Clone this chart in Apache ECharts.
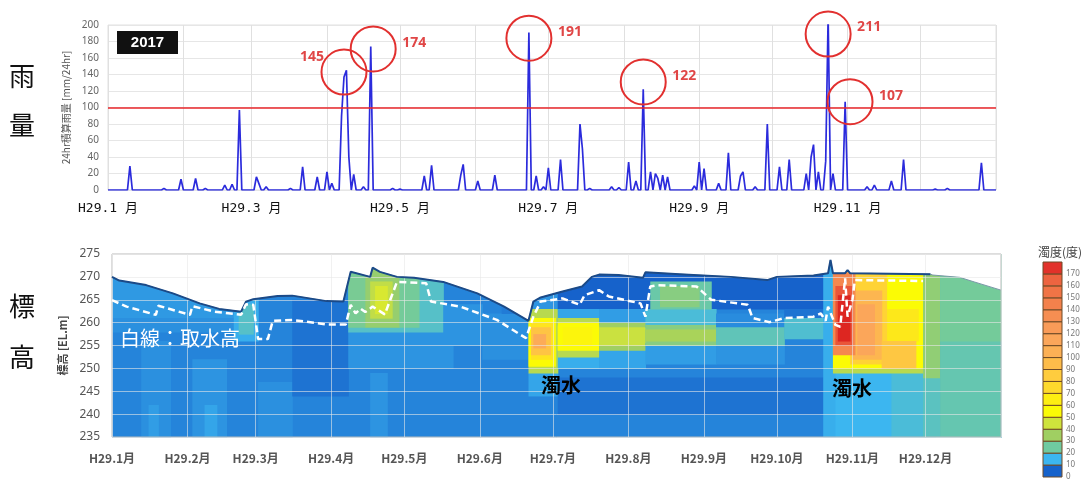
<!DOCTYPE html>
<html>
<head>
<meta charset="utf-8">
<title>H29 雨量・濁度分布</title>
<script src="https://cdn.jsdelivr.net/npm/echarts@6/dist/echarts.min.js"></script>
<style>
  html, body { margin: 0; padding: 0; background: #fff; }
  #chart { width: 1085px; height: 481px; }
</style>
</head>
<body>
<div id="chart"></div>
<script>
// カテゴリ: 2017-01-01 ～ 2018-01-01 (日単位)
const days = [];
for (let i = 0; i <= 365; i++) {
  days.push(new Date(Date.UTC(2017, 0, 1 + i)).toISOString().slice(0, 10));
}
const monthOf = v => +v.slice(5, 7);
const isMonthStart = v => v.slice(8) === '01' && v.startsWith('2017');

// 24hr積算雨量 (日番号, mm) 読み取り値、他の日は 0
const rainDay = [9, 23, 30, 36, 40, 48, 51, 54, 61, 62, 65, 75, 80, 86, 90, 92,
  96, 97, 98, 99, 101, 105, 108, 117, 120, 130, 133, 145, 146, 152, 159, 173,
  176, 179, 181, 186, 194, 195, 198, 207, 210, 214, 217, 220, 223, 225, 226, 228,
  230, 241, 243, 245, 251, 255, 260, 261, 266, 271, 276, 280, 287, 289, 290, 292,
  295, 296, 298, 303, 312, 315, 322, 327, 340, 345, 359];
const rainMM = [29, 2, 13, 14, 2, 6, 7, 97, 16, 8, 4, 2, 28, 16, 22, 8,
  90, 137, 145, 40, 19, 4, 174, 2, 1, 17, 30, 18, 31, 11, 18, 191,
  17, 4, 27, 37, 80, 50, 2, 4, 3, 34, 11, 122, 22, 20, 14, 18,
  16, 5, 34, 26, 8, 45, 17, 22, 4, 80, 28, 37, 20, 40, 55, 22,
  35, 211, 20, 107, 4, 6, 11, 37, 1, 2, 33];

// 赤丸 (中心の日番号, mm) と表示値
const circleDay = [97, 109, 173, 220, 296, 305];
const circleMM = [143, 171, 184, 131, 189, 107];
const peakText = ['145', '174', '191', '122', '211', '107'];
const peakLabelOffset = [[-32, -15], [41, -6], [41, -6], [41, -6], [41, -7], [41, -6]];

// 貯水位 (日番号, EL.m)
const surfaceDay = [0, 3, 14, 25, 36, 44, 53, 55, 58, 68, 74, 88, 95, 98, 106, 107, 110, 117, 124, 136,
  150, 161, 171, 173, 176, 185, 193, 197, 200, 208, 218, 219, 233, 254, 269, 273, 288, 294, 295, 296,
  301, 302, 303, 336, 337, 348, 354, 365];
const surfaceElev = [270.0, 269.2, 268.2, 266.4, 264.2, 263.0, 262.4, 264.6, 265.1, 265.8, 265.9, 264.7, 264.6, 271.1, 270.0, 272.0, 271.1, 270.0, 269.8, 268.9,
  266.4, 263.5, 260.4, 264.6, 265.5, 266.8, 267.9, 270.0, 270.5, 270.4, 269.8, 271.0, 270.6, 270.0, 269.3, 270.0, 270.3, 270.8, 273.7, 270.8,
  270.8, 271.5, 270.8, 270.6, 270.4, 269.9, 268.9, 267.1];
const surfaceLineEnd = 336;

// 取水高 (白破線)
const intakeDay = [0, 6, 18, 19, 32, 33, 42, 53, 55, 58, 60, 64, 66, 74, 88, 96, 98, 100, 102, 104,
  107, 112, 117, 129, 131, 143, 158, 170, 173, 176, 185, 192, 194, 200, 204, 217, 219, 221, 224, 240,
  246, 261, 263, 270, 276, 288, 291, 293, 294, 297, 299, 301, 302, 304, 305, 333];
const intakeElev = [264.9, 263.5, 261.7, 263.7, 261.7, 263.6, 262.4, 261.7, 264.0, 263.9, 256.4, 256.4, 260.4, 260.6, 259.6, 259.6, 263.9, 262.0, 263.1, 262.3,
  263.5, 261.8, 268.9, 268.6, 264.6, 263.5, 260.6, 256.6, 261.3, 264.6, 265.3, 263.9, 266.0, 267.1, 265.7, 264.2, 261.3, 267.9, 268.2, 267.9,
  265.0, 263.9, 261.0, 260.1, 261.0, 261.3, 262.0, 260.4, 263.5, 259.5, 259.1, 269.7, 261.3, 265.0, 269.3, 269.1];

// 濁度分布 [開始日, 終了日, 下端EL, 上端EL, 濁度(度)] 描画順
const turbidityBlocks = [
  [0, 365, 235, 275, 9],
  // 1～2月
  [0, 58, 261, 275, 11.5],
  [0, 58, 258, 261, 10.5],
  [12, 24, 235, 256, 10.5],
  [15, 19, 235, 242, 12],
  [33, 47, 235, 252, 11],
  [38, 43, 235, 242, 13],
  [50, 60, 256, 266, 14],
  [52, 58, 257.5, 264, 20],
  // 3～4月
  [60, 74, 235, 247, 10.5],
  [74, 97, 244, 265, 7],
  // 4～5月 表層
  [97, 140, 250, 259, 11],
  [97, 136, 258, 275, 20],
  [97, 104, 259, 275, 27],
  [104, 118, 259, 275, 33],
  [106, 115, 261, 269, 42],
  [108, 113, 262, 268, 47],
  [118, 126, 259, 275, 26],
  [136, 152, 255, 264, 11],
  [106, 113, 235, 249, 11],
  // 5～6月
  [152, 171, 252, 262, 10.5],
  [160, 171, 262, 275, 8],
  // 6月末 濁水流入
  [171, 183, 262, 275, 11],
  [171, 183, 244, 249, 13],
  [171, 183, 249, 263, 40],
  [171, 182, 250.5, 261, 55],
  [172, 181, 252, 260, 70],
  [172, 180, 253, 259, 90],
  [173, 178, 254.5, 257.5, 110],
  // 7～10月 中層の濁水
  [183, 294, 263, 275, 5],
  [183, 294, 240, 248, 7],
  [183, 200, 259.5, 263, 13],
  [183, 200, 250, 254, 14],
  [183, 200, 252.5, 261, 40],
  [183, 200, 254, 260, 55],
  [185, 197, 255, 259, 60],
  [200, 219, 259.5, 263, 12],
  [200, 219, 250, 255, 13],
  [200, 219, 254, 260, 35],
  [200, 219, 255, 259, 44],
  [219, 248, 259, 263, 18],
  [221, 246, 263, 269, 24],
  [225, 241, 263.5, 268, 30],
  [219, 248, 251, 255.5, 12],
  [219, 248, 255, 259.5, 30],
  [219, 248, 256, 258.5, 37],
  [248, 276, 259, 262, 10],
  [248, 276, 251, 255, 11],
  [248, 276, 255, 259, 22],
  [276, 294, 261, 263, 7],
  [276, 294, 256.5, 261, 19],
  // 11月 濁水流入
  [292, 297, 235, 275, 14],
  [297, 338, 235, 250, 15],
  [320, 338, 235, 250, 18],
  [296, 338, 249, 271, 40],
  [296, 333, 250, 271, 55],
  [318, 331, 256, 263, 68],
  [303, 318, 251, 271, 80],
  [304, 316, 252, 267, 100],
  [306, 313, 253, 264, 115],
  [316, 330, 250, 256, 88],
  [296, 305, 253, 271, 140],
  [297, 304, 255, 268, 168],
  [298, 303, 256, 266, 180],
  [333, 340, 235, 248, 21],
  [333, 340, 248, 271, 32],
  [340, 365, 235, 275, 23],
  [340, 365, 256, 275, 26]
];

// 凡例 (濁度 0～170, 10度刻み)
const legendLevels = [0, 10, 20, 30, 40, 50, 60, 70, 80, 90, 100, 110, 120, 130, 140, 150, 160, 170];
// -5, 5, 15, ... 185 の色
const levelColors = ['#1250b8', '#1662cb', '#3cb6f0', '#6fcaa0', '#a0cf62', '#cfe33c', '#fbfb05',
  '#fdee12', '#fed92c', '#ffcc3e', '#fdbc4a', '#fcb055', '#fba65a', '#f99b58', '#f68e52',
  '#f3814c', '#f07446', '#ed6440', '#e2322a', '#d81a18'];

const rainDaily = days.map(() => 0);
rainDay.forEach((d, i) => { rainDaily[d] = rainMM[i]; });

const chart = echarts.init(document.getElementById('chart'));

function blockItem (params, api) {
  const p0 = api.coord([api.value(0), api.value(3)]);
  const p1 = api.coord([api.value(1), api.value(2)]);
  return {
    type: 'rect',
    shape: { x: p0[0], y: p0[1], width: p1[0] - p0[0] + 0.6, height: p1[1] - p0[1] + 0.6 },
    style: { fill: api.visual('color') }
  };
}
function legendItem (params, api) {
  const p0 = api.coord([api.value(0), api.value(3)]);
  const p1 = api.coord([api.value(1), api.value(2)]);
  return {
    type: 'rect',
    shape: { x: p0[0], y: p0[1], width: p1[0] - p0[0], height: p1[1] - p0[1] },
    style: { fill: api.visual('color'), stroke: '#6e4a26', lineWidth: 1 }
  };
}

const monoFont = "'DejaVu Sans Mono', 'Noto Sans CJK JP', monospace";
const cjkFont = "'Noto Sans CJK JP', sans-serif";

function label (text, x, y, font, fill, align) {
  return { type: 'text', z: 100, x: x, y: y, style: { text: text, fill: fill, font: font, align: align || 'center', verticalAlign: 'middle' } };
}

chart.setOption({
  animation: false,
  textStyle: { fontFamily: "'Noto Sans', 'Noto Sans CJK JP', sans-serif" },
  grid: [
    { left: 108, top: 25, width: 888, height: 165, show: true, borderColor: '#e0e0e0', borderWidth: 1 },
    { left: 112, top: 254, width: 889, height: 183, show: true, borderColor: '#bbbbbb', borderWidth: 1 },
    { left: 1043, top: 262, width: 19, height: 218 }
  ],
  xAxis: [
    {
      gridIndex: 0,
      type: 'category',
      data: days,
      boundaryGap: false,
      axisLine: { show: false },
      axisTick: { show: false },
      axisLabel: {
        interval: (i, v) => isMonthStart(v) && monthOf(v) % 2 === 1,
        formatter: v => 'H29.' + monthOf(v) + ' 月',
        color: '#111',
        fontSize: 13,
        fontFamily: monoFont,
        margin: 12
      },
      splitLine: { show: true, interval: (i, v) => v.slice(8) === '01', lineStyle: { color: '#e0e0e0' } }
    },
    {
      gridIndex: 1,
      type: 'category',
      data: days,
      boundaryGap: false,
      axisLine: { show: false },
      axisTick: { show: false },
      axisLabel: {
        interval: (i, v) => isMonthStart(v),
        formatter: v => 'H29.' + monthOf(v) + '月',
        color: '#555',
        fontSize: 12,
        fontWeight: 'bold',
        fontFamily: cjkFont,
        margin: 15
      },
      splitLine: { show: true, interval: (i, v) => v.slice(8) === '01', lineStyle: { color: 'rgba(232,232,232,0.6)' } }
    },
    { gridIndex: 2, type: 'value', min: 0, max: 1, show: false }
  ],
  yAxis: [
    {
      gridIndex: 0,
      type: 'value',
      min: 0,
      max: 200,
      interval: 20,
      name: '24hr積算雨量 [mm/24hr]',
      nameLocation: 'middle',
      nameRotate: 90,
      nameGap: 31,
      nameTextStyle: { color: '#555', fontSize: 10, fontFamily: cjkFont },
      axisLine: { show: false },
      axisTick: { show: false },
      axisLabel: { color: '#666', fontSize: 10, margin: 9 },
      splitLine: { lineStyle: { color: '#e6e6e6' } }
    },
    {
      gridIndex: 1,
      type: 'value',
      min: 235,
      max: 275,
      interval: 5,
      name: '標高 [EL.m]',
      nameLocation: 'middle',
      nameRotate: 90,
      nameGap: 40,
      nameTextStyle: { color: '#444', fontSize: 11, fontWeight: 'bold', fontFamily: cjkFont },
      axisLine: { show: false },
      axisTick: { show: false },
      axisLabel: { color: '#555', fontSize: 12, margin: 12 },
      splitLine: { lineStyle: { color: 'rgba(232,232,232,0.6)' } }
    },
    {
      gridIndex: 2,
      type: 'value',
      min: 0,
      max: 180,
      interval: 10,
      position: 'right',
      axisLine: { show: false },
      axisTick: { show: false },
      splitLine: { show: false },
      axisLabel: { color: '#777', fontSize: 8, margin: 4, formatter: v => (v < 180 ? v : '') }
    }
  ],
  visualMap: {
    type: 'continuous',
    show: false,
    min: -5,
    max: 185,
    dimension: 4,
    seriesIndex: [1, 5],
    inRange: { color: levelColors }
  },
  series: [
    {
      name: '24hr積算雨量',
      type: 'line',
      xAxisIndex: 0,
      yAxisIndex: 0,
      data: rainDaily,
      symbol: 'none',
      lineStyle: { color: '#2b2bdc', width: 1.7 },
      markLine: {
        silent: true,
        symbol: ['none', 'none'],
        label: { show: false },
        lineStyle: { color: '#e8262a', width: 1.6, type: 'solid' },
        data: [{ yAxis: 100 }]
      },
      markPoint: {
        silent: true,
        symbol: 'circle',
        symbolSize: 45,
        itemStyle: { color: 'rgba(0,0,0,0)', borderColor: '#e2302f', borderWidth: 2 },
        label: { show: true, position: 'inside', formatter: '{b}', color: '#e04646', fontSize: 14, fontWeight: 'bold' },
        data: circleDay.map((d, i) => ({
          name: peakText[i],
          coord: [days[d], circleMM[i]],
          label: { offset: peakLabelOffset[i] }
        }))
      }
    },
    {
      name: '濁度',
      type: 'custom',
      xAxisIndex: 1,
      yAxisIndex: 1,
      z: -3,
      silent: true,
      encode: { x: [0, 1], y: [2, 3] },
      renderItem: blockItem,
      data: turbidityBlocks
    },
    {
      name: '水面上',
      type: 'line',
      xAxisIndex: 1,
      yAxisIndex: 1,
      z: -2,
      silent: true,
      symbol: 'none',
      data: surfaceDay.map((d, i) => [d, surfaceElev[i]]),
      lineStyle: { color: '#7a98a8', width: 1 },
      areaStyle: { color: '#ffffff', opacity: 1, origin: 'end' }
    },
    {
      name: '貯水位',
      type: 'line',
      xAxisIndex: 1,
      yAxisIndex: 1,
      silent: true,
      symbol: 'none',
      data: surfaceDay.filter(d => d <= surfaceLineEnd).map((d, i) => [d, surfaceElev[i]]),
      lineStyle: { color: '#1b4a88', width: 2 }
    },
    {
      name: '取水高',
      type: 'line',
      xAxisIndex: 1,
      yAxisIndex: 1,
      silent: true,
      symbol: 'none',
      data: intakeDay.map((d, i) => [d, intakeElev[i]]),
      lineStyle: { color: '#ffffff', width: 2.5, type: [7, 4] }
    },
    {
      name: '凡例',
      type: 'custom',
      xAxisIndex: 2,
      yAxisIndex: 2,
      silent: true,
      encode: { x: [0, 1], y: [2, 3] },
      renderItem: legendItem,
      data: legendLevels.map(l => [0, 1, l, l + 10, l + 5])
    }
  ],
  graphic: [
    { type: 'rect', z: 100, shape: { x: 117, y: 31, width: 61, height: 23 }, style: { fill: '#111' } },
    label('2017', 147.5, 42.5, 'bold 15px "Liberation Sans", Arial, sans-serif', '#fff'),
    label('雨', 22, 76, '26px "Noto Sans CJK JP"', '#111'),
    label('量', 22, 125, '26px "Noto Sans CJK JP"', '#111'),
    label('標', 22, 306, '26px "Noto Sans CJK JP"', '#111'),
    label('高', 22, 357, '26px "Noto Sans CJK JP"', '#111'),
    label('白線：取水高', 120, 338, '20px "Noto Sans CJK JP"', '#fff', 'left'),
    label('濁水', 561, 385, 'bold 20px "Noto Sans CJK JP"', '#000'),
    label('濁水', 852, 388, 'bold 20px "Noto Sans CJK JP"', '#000'),
    label('濁度(度)', 1060, 252, '12px "Noto Sans CJK JP"', '#444')
  ]
});
</script>
</body>
</html>
